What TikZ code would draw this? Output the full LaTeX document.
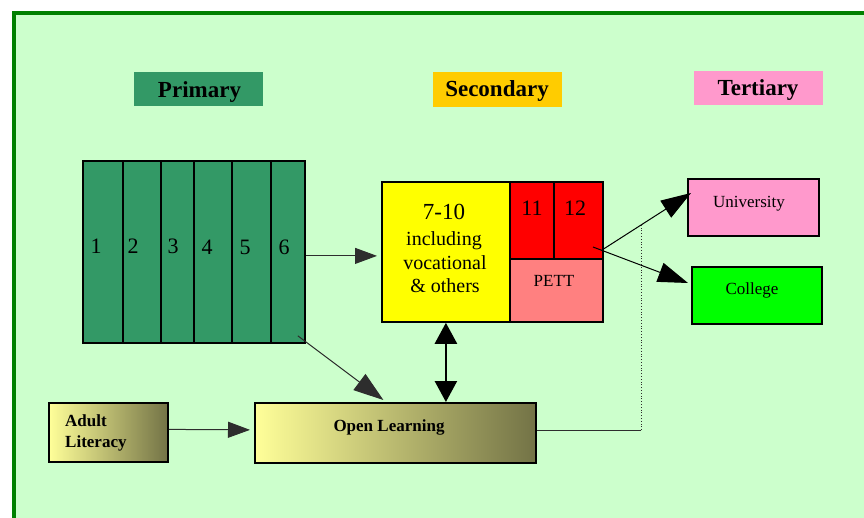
\documentclass[tikz,border=0pt]{standalone}
\usepackage{fontspec}
\setmainfont{Liberation Serif}
\usetikzlibrary{arrows.meta}
\definecolor{bgg}{RGB}{204,255,204}
\definecolor{frameg}{RGB}{0,128,0}
\definecolor{primg}{RGB}{51,153,102}
\definecolor{secy}{RGB}{255,204,0}
\definecolor{terp}{RGB}{255,153,204}
\definecolor{yel}{RGB}{255,255,0}
\definecolor{redb}{RGB}{255,0,0}
\definecolor{pettc}{RGB}{255,128,128}
\definecolor{colg}{RGB}{0,255,0}
\definecolor{gradl}{RGB}{255,255,153}
\definecolor{gradr}{RGB}{115,115,70}
\definecolor{linec}{RGB}{45,45,45}
\begin{document}
\begin{tikzpicture}[x=1pt,y=-1pt,
  boxnode/.style={draw=black,line width=1.8pt,inner sep=0pt,anchor=north west},
  headnode/.style={inner sep=0pt,anchor=north west},
  headtxt/.style={inner sep=0pt,anchor=base,font=\fontsize{23}{26}\selectfont\bfseries},
  colnode/.style={boxnode,fill=primg,minimum height=182pt},
  numtxt/.style={inner sep=0pt,anchor=base,font=\fontsize{22}{26}\selectfont},
  smalltxt/.style={inner sep=0pt,anchor=base,font=\fontsize{17}{20}\selectfont},
  gradnode/.style={boxnode,left color=gradl,right color=gradr},
  conn/.style={draw=linec,line width=1pt,-{Triangle[length=22pt,width=16pt]}},
  bigconn/.style={draw=linec,line width=1pt,-{Triangle[length=30pt,width=20pt]}},
  dblconn/.style={draw=black,line width=2.6pt,{Triangle[length=21pt,width=22pt]}-{Triangle[length=21pt,width=22pt]}}
]
\useasboundingbox (0,0) rectangle (864,518);
\clip (0,0) rectangle (864,518);
\fill[white] (0,0) rectangle (864,518);
\draw[frameg,line width=4pt,fill=bgg] (14,13) rectangle (900,560);

% headers
\node[headnode,fill=primg,minimum width=129pt,minimum height=34pt] (hprim) at (134,72) {};
\node[headnode,fill=secy,minimum width=129pt,minimum height=35pt] (hsec) at (433,72) {};
\node[headnode,fill=terp,minimum width=129pt,minimum height=34pt] (hter) at (694,71) {};
\node[headtxt] (tprim) at (199.5,97.2) {Primary};
\node[headtxt] (tsec) at (497,96.7) {Secondary};
\node[headtxt] (tter) at (758,95.7) {Tertiary};

% primary columns
\node[colnode,minimum width=40pt] (p1) at (82,160) {};
\node[colnode,minimum width=38pt] (p2) at (122,160) {};
\node[colnode,minimum width=33pt] (p3) at (160,160) {};
\node[colnode,minimum width=38pt] (p4) at (193,160) {};
\node[colnode,minimum width=39pt] (p5) at (231,160) {};
\node[colnode,minimum width=34pt] (p6) at (270,160) {};
\node[numtxt] (n1) at (96,253.5) {1};
\node[numtxt] (n2) at (133,253.5) {2};
\node[numtxt] (n3) at (173,253.5) {3};
\node[numtxt] (n4) at (207,254.5) {4};
\node[numtxt] (n5) at (245,254.5) {5};
\node[numtxt] (n6) at (284,254.5) {6};

% secondary
\node[boxnode,fill=yel,minimum width=128pt,minimum height=140pt] (sec) at (381,181) {};
\node[inner sep=0pt,anchor=base,font=\fontsize{23}{26}\selectfont] (s1) at (444,220) {7-10};
\node[inner sep=0pt,anchor=base,font=\fontsize{20}{24}\selectfont] (s2) at (444,245.5) {including};
\node[inner sep=0pt,anchor=base,font=\fontsize{20}{24}\selectfont] (s3) at (445,270) {vocational};
\node[inner sep=0pt,anchor=base,font=\fontsize{20}{24}\selectfont] (s4) at (445,293) {\& others};
\node[boxnode,fill=redb,minimum width=44pt,minimum height=77pt] (r11) at (509,181) {};
\node[boxnode,fill=redb,minimum width=49pt,minimum height=77pt] (r12) at (553,181) {};
\node[boxnode,fill=pettc,minimum width=93pt,minimum height=63pt] (pett) at (509,258) {};
\node[numtxt] (t11) at (532,216) {11};
\node[numtxt] (t12) at (575,216) {12};
\node[smalltxt] (tpett) at (554,286.7) {PETT};

% tertiary
\node[boxnode,fill=terp,minimum width=131pt,minimum height=57pt] (univ) at (687,178) {};
\node[smalltxt] (tuniv) at (749,207.7) {University};
\node[boxnode,fill=colg,minimum width=130pt,minimum height=57pt] (coll) at (691,266) {};
\node[smalltxt] (tcoll) at (752,295) {College};

% bottom
\node[gradnode,minimum width=119pt,minimum height=59pt] (adult) at (48,402) {};
\node[inner sep=0pt,anchor=base west,font=\fontsize{17}{20}\selectfont\bfseries] (tadult1) at (65,426) {Adult};
\node[inner sep=0pt,anchor=base west,font=\fontsize{17}{20}\selectfont\bfseries] (tadult2) at (65,447.3) {Literacy};
\node[gradnode,minimum width=281pt,minimum height=60pt] (ol) at (254,402) {};
\node[inner sep=0pt,anchor=base,font=\fontsize{17}{20}\selectfont\bfseries] (tol) at (389,431.7) {Open Learning};

% connectors
\coordinate (fork) at (602,250);
\coordinate (forkin) at (593,247);
\coordinate (univtip) at (691,193);
\coordinate (colltip) at (688,283);
\coordinate (dcorner) at (641,430);
\coordinate (dtop) at (641,225);

\draw[conn,shorten >=4pt] ([yshift=-4pt]p6.east) -- ([yshift=-4pt]sec.west);
\draw[bigconn] ([xshift=-8pt,yshift=8pt]p6.south east) -- ([xshift=-12pt,yshift=2pt]ol.north);
\draw[conn,shorten >=4pt] ([yshift=3pt]adult.east) -- ([yshift=3pt]ol.west);
\draw[dblconn] (sec.south) -- (sec.south |- ol.north);
\draw[bigconn,draw=black] (fork) -- (univtip);
\draw[bigconn,draw=black] (forkin) -- (colltip);
\draw[linec,line width=0.9pt] (ol.east |- dcorner) -- (dcorner);
\draw[linec,line width=0.8pt,dotted] (dcorner) -- (dtop);
\end{tikzpicture}
\end{document}
